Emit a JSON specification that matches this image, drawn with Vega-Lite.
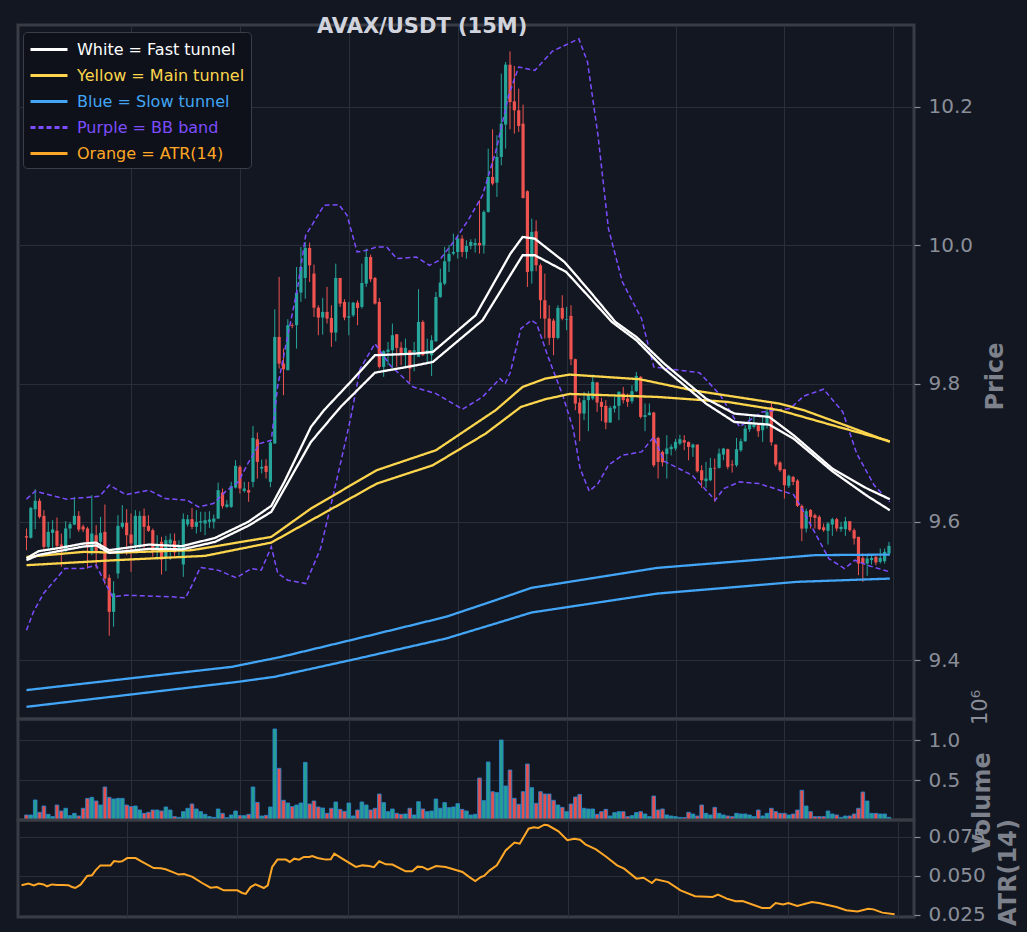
{
  "$schema": "https://vega.github.io/schema/vega-lite/v6.json",
  "background": "#131722",
  "padding": {"left": 16, "top": 14, "right": 5, "bottom": 5},
  "datasets": {
    "candles": [
      {"i":1,"o":9.5792,"h":9.5903,"l":9.5589,"c":9.5772,"v":62500},
      {"i":2,"o":9.5768,"h":9.6216,"l":9.5758,"c":9.6201,"v":62500},
      {"i":3,"o":9.6182,"h":9.6471,"l":9.5893,"c":9.6303,"v":250000},
      {"i":4,"o":9.6303,"h":9.6337,"l":9.6047,"c":9.6071,"v":96000},
      {"i":5,"o":9.6086,"h":9.6168,"l":9.5589,"c":9.5637,"v":175000},
      {"i":6,"o":9.5637,"h":9.5999,"l":9.5589,"c":9.5854,"v":71000},
      {"i":7,"o":9.584,"h":9.6023,"l":9.5613,"c":9.5888,"v":42000},
      {"i":8,"o":9.5869,"h":9.6062,"l":9.5589,"c":9.5652,"v":187500},
      {"i":9,"o":9.5671,"h":9.583,"l":9.5348,"c":9.5613,"v":112500},
      {"i":10,"o":9.5575,"h":9.6009,"l":9.5565,"c":9.5903,"v":146000},
      {"i":11,"o":9.5903,"h":9.5999,"l":9.5758,"c":9.5965,"v":54000},
      {"i":12,"o":9.596,"h":9.636,"l":9.5951,"c":9.6086,"v":83000},
      {"i":13,"o":9.6086,"h":9.6153,"l":9.5854,"c":9.5888,"v":50000},
      {"i":14,"o":9.593,"h":9.596,"l":9.585,"c":9.589,"v":146000},
      {"i":15,"o":9.5903,"h":9.5927,"l":9.5324,"c":9.5637,"v":270000},
      {"i":16,"o":9.5575,"h":9.6385,"l":9.5517,"c":9.583,"v":283000},
      {"i":17,"o":9.5806,"h":9.5951,"l":9.5324,"c":9.5565,"v":237500},
      {"i":18,"o":9.571,"h":9.6071,"l":9.5589,"c":9.584,"v":187500},
      {"i":19,"o":9.5854,"h":9.625,"l":9.5093,"c":9.518,"v":412500},
      {"i":20,"o":9.5189,"h":9.5237,"l":9.4351,"c":9.4697,"v":283000},
      {"i":21,"o":9.4697,"h":9.5141,"l":9.4481,"c":9.4963,"v":262500},
      {"i":22,"o":9.5252,"h":9.6095,"l":9.518,"c":9.5941,"v":270000},
      {"i":23,"o":9.5927,"h":9.624,"l":9.5902,"c":9.5985,"v":270000},
      {"i":24,"o":9.5985,"h":9.6182,"l":9.5517,"c":9.5806,"v":187500},
      {"i":25,"o":9.5816,"h":9.612,"l":9.5276,"c":9.5686,"v":167000},
      {"i":26,"o":9.5661,"h":9.6168,"l":9.5565,"c":9.6086,"v":175000},
      {"i":27,"o":9.5637,"h":9.6153,"l":9.5613,"c":9.6086,"v":125000},
      {"i":28,"o":9.6086,"h":9.6192,"l":9.5613,"c":9.5927,"v":83000},
      {"i":29,"o":9.5941,"h":9.6095,"l":9.5854,"c":9.5869,"v":96000},
      {"i":30,"o":9.5878,"h":9.5902,"l":9.5493,"c":9.5565,"v":125000},
      {"i":31,"o":9.5613,"h":9.5806,"l":9.5445,"c":9.5661,"v":125000},
      {"i":32,"o":9.571,"h":9.5782,"l":9.5237,"c":9.5454,"v":112500},
      {"i":33,"o":9.5478,"h":9.5797,"l":9.5286,"c":9.5734,"v":162500},
      {"i":34,"o":9.5686,"h":9.583,"l":9.5445,"c":9.5743,"v":125000},
      {"i":35,"o":9.5724,"h":9.583,"l":9.5493,"c":9.5556,"v":42000},
      {"i":36,"o":9.5589,"h":9.5734,"l":9.5469,"c":9.5652,"v":33000},
      {"i":37,"o":9.5382,"h":9.612,"l":9.5204,"c":9.6038,"v":104000},
      {"i":38,"o":9.5962,"h":9.61,"l":9.593,"c":9.6036,"v":146000},
      {"i":39,"o":9.6038,"h":9.6201,"l":9.5893,"c":9.5927,"v":200000},
      {"i":40,"o":9.5927,"h":9.6168,"l":9.583,"c":9.5999,"v":137500},
      {"i":41,"o":9.5989,"h":9.6144,"l":9.5854,"c":9.6009,"v":104000},
      {"i":42,"o":9.5975,"h":9.6144,"l":9.5806,"c":9.6023,"v":71000},
      {"i":43,"o":9.5999,"h":9.6153,"l":9.5912,"c":9.6033,"v":42000},
      {"i":44,"o":9.5999,"h":9.6105,"l":9.5902,"c":9.6047,"v":33000},
      {"i":45,"o":9.6047,"h":9.6568,"l":9.6038,"c":9.6457,"v":137500},
      {"i":46,"o":9.6423,"h":9.6481,"l":9.6192,"c":9.6226,"v":83000},
      {"i":47,"o":9.6216,"h":9.6312,"l":9.6201,"c":9.625,"v":29000},
      {"i":48,"o":9.6216,"h":9.6577,"l":9.6201,"c":9.6515,"v":62500},
      {"i":49,"o":9.6495,"h":9.6891,"l":9.6481,"c":9.6809,"v":112500},
      {"i":50,"o":9.6794,"h":9.6818,"l":9.6409,"c":9.6481,"v":54000},
      {"i":51,"o":9.6447,"h":9.6577,"l":9.6423,"c":9.6481,"v":54000},
      {"i":52,"o":9.6457,"h":9.6577,"l":9.6288,"c":9.6423,"v":71000},
      {"i":53,"o":9.6577,"h":9.7387,"l":9.65,"c":9.7214,"v":412500},
      {"i":54,"o":9.7194,"h":9.7291,"l":9.6625,"c":9.6866,"v":220000},
      {"i":55,"o":9.677,"h":9.69,"l":9.67,"c":9.6794,"v":50000},
      {"i":56,"o":9.6809,"h":9.6905,"l":9.6625,"c":9.6722,"v":58000},
      {"i":57,"o":9.6577,"h":9.718,"l":9.65,"c":9.7146,"v":162500},
      {"i":58,"o":9.7132,"h":9.9074,"l":9.7132,"c":9.8674,"v":1137500},
      {"i":59,"o":9.8674,"h":9.9542,"l":9.8216,"c":9.8288,"v":646000},
      {"i":60,"o":9.8288,"h":9.8505,"l":9.7831,"c":9.8206,"v":246000},
      {"i":61,"o":9.8192,"h":9.893,"l":9.8192,"c":9.8843,"v":212500},
      {"i":62,"o":9.8843,"h":9.887,"l":9.88,"c":9.8833,"v":167000},
      {"i":63,"o":9.8843,"h":9.9686,"l":9.8505,"c":9.9315,"v":187500},
      {"i":64,"o":9.9315,"h":9.9976,"l":9.918,"c":9.9686,"v":212500},
      {"i":65,"o":9.9527,"h":10.0048,"l":9.9228,"c":9.9961,"v":720000},
      {"i":66,"o":9.9961,"h":10.0038,"l":9.9469,"c":9.971,"v":200000},
      {"i":67,"o":9.959,"h":9.972,"l":9.8963,"c":9.9097,"v":237500},
      {"i":68,"o":9.9097,"h":9.9132,"l":9.8698,"c":9.8954,"v":162500},
      {"i":69,"o":9.8954,"h":9.9238,"l":9.8708,"c":9.9036,"v":150000},
      {"i":70,"o":9.9036,"h":9.9397,"l":9.8867,"c":9.8939,"v":83000},
      {"i":71,"o":9.8949,"h":9.9132,"l":9.853,"c":9.8737,"v":146000},
      {"i":72,"o":9.8737,"h":9.9734,"l":9.8611,"c":9.9527,"v":225000},
      {"i":73,"o":9.9527,"h":9.9527,"l":9.9108,"c":9.9156,"v":133000},
      {"i":74,"o":9.918,"h":9.9219,"l":9.8915,"c":9.8954,"v":108000},
      {"i":75,"o":9.8954,"h":9.918,"l":9.8698,"c":9.8973,"v":212500},
      {"i":76,"o":9.8987,"h":9.918,"l":9.8963,"c":9.917,"v":50000},
      {"i":77,"o":9.917,"h":9.9204,"l":9.8843,"c":9.9093,"v":125000},
      {"i":78,"o":9.9108,"h":9.9734,"l":9.9084,"c":9.9455,"v":225000},
      {"i":79,"o":9.9445,"h":9.9951,"l":9.9397,"c":9.9831,"v":187500},
      {"i":80,"o":9.9831,"h":9.9865,"l":9.9469,"c":9.9508,"v":125000},
      {"i":81,"o":9.9527,"h":9.9542,"l":9.9142,"c":9.9156,"v":146000},
      {"i":82,"o":9.918,"h":9.9238,"l":9.8216,"c":9.824,"v":325000},
      {"i":83,"o":9.824,"h":9.8481,"l":9.8096,"c":9.8467,"v":217000},
      {"i":84,"o":9.8457,"h":9.8602,"l":9.8264,"c":9.8491,"v":104000},
      {"i":85,"o":9.8481,"h":9.8867,"l":9.8216,"c":9.8698,"v":137500},
      {"i":86,"o":9.8713,"h":9.8713,"l":9.824,"c":9.8515,"v":83000},
      {"i":87,"o":9.852,"h":9.8602,"l":9.8264,"c":9.8433,"v":71000},
      {"i":88,"o":9.8443,"h":9.865,"l":9.8216,"c":9.8515,"v":75000},
      {"i":89,"o":9.8481,"h":9.8481,"l":9.8023,"c":9.8216,"v":146000},
      {"i":90,"o":9.8457,"h":9.8602,"l":9.8178,"c":9.8481,"v":62500},
      {"i":91,"o":9.8385,"h":9.9363,"l":9.8385,"c":9.8891,"v":229000},
      {"i":92,"o":9.8891,"h":9.8915,"l":9.8399,"c":9.8409,"v":137500},
      {"i":93,"o":9.8433,"h":9.865,"l":9.8313,"c":9.8481,"v":104000},
      {"i":94,"o":9.8409,"h":9.8698,"l":9.811,"c":9.8626,"v":112500},
      {"i":95,"o":9.8611,"h":9.9325,"l":9.8602,"c":9.9252,"v":262500},
      {"i":96,"o":9.9252,"h":9.9662,"l":9.9238,"c":9.946,"v":146000},
      {"i":97,"o":9.9445,"h":9.9976,"l":9.9421,"c":9.9768,"v":217000},
      {"i":98,"o":9.9768,"h":10.0,"l":9.9614,"c":9.9874,"v":154000},
      {"i":99,"o":9.9879,"h":10.0168,"l":9.9855,"c":9.9903,"v":162500},
      {"i":100,"o":9.9903,"h":10.0154,"l":9.9807,"c":10.0096,"v":204000},
      {"i":101,"o":10.0096,"h":10.0144,"l":9.9831,"c":9.9903,"v":133000},
      {"i":102,"o":9.9903,"h":10.0072,"l":9.9807,"c":9.999,"v":112500},
      {"i":103,"o":9.999,"h":10.0087,"l":9.9942,"c":10.0048,"v":62500},
      {"i":104,"o":10.0,"h":10.0096,"l":9.9894,"c":10.0034,"v":71000},
      {"i":105,"o":10.0034,"h":10.065,"l":9.9879,"c":9.9999,"v":525000},
      {"i":106,"o":9.9999,"h":10.0506,"l":9.9879,"c":10.0482,"v":242000},
      {"i":107,"o":10.0482,"h":10.1398,"l":10.0472,"c":10.0988,"v":725000},
      {"i":108,"o":10.0988,"h":10.1677,"l":10.0867,"c":10.0892,"v":354000},
      {"i":109,"o":10.0906,"h":10.159,"l":10.0699,"c":10.1277,"v":342000},
      {"i":110,"o":10.1277,"h":10.2482,"l":10.1157,"c":10.1759,"v":1000000},
      {"i":111,"o":10.1745,"h":10.2651,"l":10.1398,"c":10.2612,"v":425000},
      {"i":112,"o":10.2612,"h":10.2805,"l":10.1677,"c":10.2072,"v":625000},
      {"i":113,"o":10.2082,"h":10.2593,"l":10.1615,"c":10.1952,"v":271000},
      {"i":114,"o":10.1952,"h":10.2265,"l":10.1639,"c":10.1725,"v":196000},
      {"i":115,"o":10.1759,"h":10.2034,"l":10.0675,"c":10.0684,"v":354000},
      {"i":116,"o":10.0781,"h":10.0795,"l":9.9397,"c":9.9614,"v":700000},
      {"i":117,"o":9.9624,"h":10.0385,"l":9.9445,"c":10.0193,"v":404000},
      {"i":118,"o":10.0202,"h":10.0361,"l":9.9624,"c":9.9711,"v":208000},
      {"i":119,"o":9.9711,"h":9.9735,"l":9.8939,"c":9.9205,"v":354000},
      {"i":120,"o":9.9205,"h":9.959,"l":9.865,"c":9.8939,"v":325000},
      {"i":121,"o":9.8939,"h":9.9132,"l":9.8554,"c":9.866,"v":325000},
      {"i":122,"o":9.891,"h":9.8939,"l":9.8409,"c":9.866,"v":246000},
      {"i":123,"o":9.866,"h":9.9132,"l":9.864,"c":9.9094,"v":187500},
      {"i":124,"o":9.9094,"h":9.9277,"l":9.8915,"c":9.8939,"v":158000},
      {"i":125,"o":9.892,"h":9.9108,"l":9.8771,"c":9.893,"v":104000},
      {"i":126,"o":9.8978,"h":9.9132,"l":9.8265,"c":9.8351,"v":200000},
      {"i":127,"o":9.8351,"h":9.8361,"l":9.7614,"c":9.771,"v":287500},
      {"i":128,"o":9.7725,"h":9.7792,"l":9.7166,"c":9.7566,"v":320000},
      {"i":129,"o":9.7566,"h":9.7879,"l":9.7469,"c":9.7759,"v":146000},
      {"i":130,"o":9.7759,"h":9.7889,"l":9.731,"c":9.7831,"v":137500},
      {"i":131,"o":9.7783,"h":9.813,"l":9.7759,"c":9.8024,"v":137500},
      {"i":132,"o":9.8014,"h":9.8024,"l":9.759,"c":9.7725,"v":71000},
      {"i":133,"o":9.7734,"h":9.7792,"l":9.7455,"c":9.7662,"v":104000},
      {"i":134,"o":9.7677,"h":9.7759,"l":9.7339,"c":9.7436,"v":133000},
      {"i":135,"o":9.7436,"h":9.7677,"l":9.743,"c":9.7648,"v":50000},
      {"i":136,"o":9.7638,"h":9.7807,"l":9.758,"c":9.7677,"v":92000},
      {"i":137,"o":9.7677,"h":9.7889,"l":9.7469,"c":9.7879,"v":104000},
      {"i":138,"o":9.7855,"h":9.7951,"l":9.771,"c":9.7759,"v":104000},
      {"i":139,"o":9.7783,"h":9.7855,"l":9.7662,"c":9.7734,"v":42000},
      {"i":140,"o":9.7744,"h":9.7975,"l":9.771,"c":9.7889,"v":54000},
      {"i":141,"o":9.7889,"h":9.8168,"l":9.7879,"c":9.811,"v":92000},
      {"i":142,"o":9.8096,"h":9.811,"l":9.7493,"c":9.7517,"v":104000},
      {"i":143,"o":9.7517,"h":9.771,"l":9.731,"c":9.7542,"v":75000},
      {"i":144,"o":9.7542,"h":9.771,"l":9.7542,"c":9.758,"v":42000},
      {"i":145,"o":9.758,"h":9.759,"l":9.679,"c":9.6818,"v":300000},
      {"i":146,"o":9.7213,"h":9.723,"l":9.6625,"c":9.6866,"v":125000},
      {"i":147,"o":9.7011,"h":9.703,"l":9.68,"c":9.686,"v":137500},
      {"i":148,"o":9.698,"h":9.7252,"l":9.6625,"c":9.706,"v":62500},
      {"i":149,"o":9.705,"h":9.712,"l":9.696,"c":9.7084,"v":50000},
      {"i":150,"o":9.706,"h":9.72,"l":9.703,"c":9.7156,"v":42000},
      {"i":151,"o":9.7131,"h":9.7258,"l":9.7107,"c":9.7194,"v":33000},
      {"i":152,"o":9.718,"h":9.7252,"l":9.7035,"c":9.7146,"v":30000},
      {"i":153,"o":9.7155,"h":9.716,"l":9.689,"c":9.7083,"v":96000},
      {"i":154,"o":9.7073,"h":9.7131,"l":9.6939,"c":9.7117,"v":75000},
      {"i":155,"o":9.7117,"h":9.7117,"l":9.6712,"c":9.6731,"v":50000},
      {"i":156,"o":9.6746,"h":9.6818,"l":9.649,"c":9.6601,"v":187500},
      {"i":157,"o":9.6587,"h":9.6866,"l":9.649,"c":9.6625,"v":83000},
      {"i":158,"o":9.6601,"h":9.6924,"l":9.6587,"c":9.678,"v":62500},
      {"i":159,"o":9.678,"h":9.6914,"l":9.6288,"c":9.677,"v":158000},
      {"i":160,"o":9.678,"h":9.7059,"l":9.677,"c":9.6987,"v":83000},
      {"i":161,"o":9.6972,"h":9.7069,"l":9.689,"c":9.7059,"v":62500},
      {"i":162,"o":9.7049,"h":9.7059,"l":9.676,"c":9.6794,"v":50000},
      {"i":163,"o":9.6828,"h":9.689,"l":9.6712,"c":9.6818,"v":42000},
      {"i":164,"o":9.6818,"h":9.7213,"l":9.6794,"c":9.7049,"v":83000},
      {"i":165,"o":9.7035,"h":9.7204,"l":9.7011,"c":9.7165,"v":75000},
      {"i":166,"o":9.7165,"h":9.7396,"l":9.7155,"c":9.7348,"v":75000},
      {"i":167,"o":9.7339,"h":9.7517,"l":9.73,"c":9.7406,"v":62500},
      {"i":168,"o":9.7372,"h":9.7541,"l":9.7348,"c":9.7406,"v":42000},
      {"i":169,"o":9.7396,"h":9.742,"l":9.7228,"c":9.731,"v":125000},
      {"i":170,"o":9.7324,"h":9.7541,"l":9.7155,"c":9.7406,"v":50000},
      {"i":171,"o":9.7396,"h":9.7628,"l":9.7348,"c":9.7589,"v":83000},
      {"i":172,"o":9.766,"h":9.774,"l":9.71,"c":9.715,"v":146000},
      {"i":173,"o":9.7117,"h":9.7117,"l":9.68,"c":9.6828,"v":104000},
      {"i":174,"o":9.6857,"h":9.6876,"l":9.6722,"c":9.6746,"v":83000},
      {"i":175,"o":9.676,"h":9.676,"l":9.6336,"c":9.6529,"v":83000},
      {"i":176,"o":9.6519,"h":9.6683,"l":9.649,"c":9.6664,"v":62500},
      {"i":177,"o":9.6649,"h":9.6664,"l":9.6529,"c":9.6577,"v":75000},
      {"i":178,"o":9.6596,"h":9.6616,"l":9.6215,"c":9.623,"v":125000},
      {"i":179,"o":9.623,"h":9.6249,"l":9.5719,"c":9.5902,"v":371000},
      {"i":180,"o":9.5902,"h":9.6191,"l":9.5845,"c":9.6153,"v":175000},
      {"i":181,"o":9.6172,"h":9.6182,"l":9.5902,"c":9.6071,"v":104000},
      {"i":182,"o":9.6095,"h":9.6119,"l":9.5902,"c":9.6057,"v":42000},
      {"i":183,"o":9.6071,"h":9.6095,"l":9.5878,"c":9.5893,"v":42000},
      {"i":184,"o":9.5921,"h":9.5975,"l":9.5854,"c":9.5878,"v":42000},
      {"i":185,"o":9.5869,"h":9.5999,"l":9.5671,"c":9.5975,"v":112500},
      {"i":186,"o":9.596,"h":9.6057,"l":9.5796,"c":9.6037,"v":75000},
      {"i":187,"o":9.6037,"h":9.6057,"l":9.586,"c":9.5902,"v":62500},
      {"i":188,"o":9.5893,"h":9.5999,"l":9.5854,"c":9.5927,"v":33000},
      {"i":189,"o":9.5893,"h":9.6071,"l":9.5796,"c":9.6008,"v":50000},
      {"i":190,"o":9.6008,"h":9.6008,"l":9.5854,"c":9.5878,"v":50000},
      {"i":191,"o":9.5878,"h":9.5902,"l":9.5671,"c":9.5758,"v":75000},
      {"i":192,"o":9.5782,"h":9.5782,"l":9.5227,"c":9.5396,"v":146000},
      {"i":193,"o":9.5478,"h":9.5541,"l":9.5131,"c":9.5396,"v":350000},
      {"i":194,"o":9.5396,"h":9.5517,"l":9.5218,"c":9.5468,"v":237500},
      {"i":195,"o":9.5444,"h":9.5507,"l":9.5382,"c":9.5478,"v":83000},
      {"i":196,"o":9.5492,"h":9.5517,"l":9.5372,"c":9.5411,"v":83000},
      {"i":197,"o":9.542,"h":9.5613,"l":9.5396,"c":9.5478,"v":75000},
      {"i":198,"o":9.543,"h":9.5613,"l":9.5396,"c":9.5565,"v":75000},
      {"i":199,"o":9.5541,"h":9.5709,"l":9.5526,"c":9.5652,"v":33000}
    ],
    "lines": [
      {"g":"b","s":"b1","i":1,"p":9.3565},{"g":"b","s":"b1","i":48.1,"p":9.3901},{"g":"b","s":"b1","i":59.5,"p":9.4046},{"g":"b","s":"b1","i":75.4,"p":9.4287},{"g":"b","s":"b1","i":97.3,"p":9.4625},{"g":"b","s":"b1","i":108.7,"p":9.4866},{"g":"b","s":"b1","i":116.9,"p":9.5044},{"g":"b","s":"b1","i":145.8,"p":9.5333},{"g":"b","s":"b1","i":182,"p":9.5517},{"g":"b","s":"b1","i":199.2,"p":9.5525},
      {"g":"b","s":"b2","i":1,"p":9.3323},{"g":"b","s":"b2","i":49.6,"p":9.3685},{"g":"b","s":"b2","i":57.9,"p":9.3757},{"g":"b","s":"b2","i":75.4,"p":9.3998},{"g":"b","s":"b2","i":97.3,"p":9.4311},{"g":"b","s":"b2","i":108.7,"p":9.4528},{"g":"b","s":"b2","i":116.9,"p":9.4687},{"g":"b","s":"b2","i":145.8,"p":9.4961},{"g":"b","s":"b2","i":177.9,"p":9.5131},{"g":"b","s":"b2","i":199.2,"p":9.5178},
      {"g":"y","s":"y1","i":1,"p":9.5492},{"g":"y","s":"y1","i":14,"p":9.5564},{"g":"y","s":"y1","i":22.3,"p":9.5554},{"g":"y","s":"y1","i":39,"p":9.5589},{"g":"y","s":"y1","i":57.2,"p":9.5781},{"g":"y","s":"y1","i":66.3,"p":9.6191},{"g":"y","s":"y1","i":81.4,"p":9.6746},{"g":"y","s":"y1","i":95,"p":9.7035},{"g":"y","s":"y1","i":108.7,"p":9.7614},{"g":"y","s":"y1","i":114.9,"p":9.7951},{"g":"y","s":"y1","i":120.1,"p":9.8071},{"g":"y","s":"y1","i":125.7,"p":9.8129},{"g":"y","s":"y1","i":141.8,"p":9.8062},{"g":"y","s":"y1","i":153.8,"p":9.7903},{"g":"y","s":"y1","i":173.9,"p":9.7709},{"g":"y","s":"y1","i":179.5,"p":9.7613},{"g":"y","s":"y1","i":190,"p":9.7372},{"g":"y","s":"y1","i":199.2,"p":9.7155},
      {"g":"y","s":"y2","i":1,"p":9.5372},{"g":"y","s":"y2","i":21.6,"p":9.5445},{"g":"y","s":"y2","i":42,"p":9.5507},{"g":"y","s":"y2","i":57.2,"p":9.5699},{"g":"y","s":"y2","i":81.4,"p":9.6552},{"g":"y","s":"y2","i":94.3,"p":9.6818},{"g":"y","s":"y2","i":106.4,"p":9.7275},{"g":"y","s":"y2","i":114.5,"p":9.7661},{"g":"y","s":"y2","i":120.1,"p":9.7773},{"g":"y","s":"y2","i":125.7,"p":9.7849},{"g":"y","s":"y2","i":145.8,"p":9.7806},{"g":"y","s":"y2","i":161.9,"p":9.7734},{"g":"y","s":"y2","i":173.9,"p":9.7613},{"g":"y","s":"y2","i":186,"p":9.7397},{"g":"y","s":"y2","i":199.2,"p":9.7165},
      {"g":"w","s":"w1","i":1,"p":9.547},{"g":"w","s":"w1","i":3.8,"p":9.5575},{"g":"w","s":"w1","i":8.7,"p":9.5622},{"g":"w","s":"w1","i":14,"p":9.5685},{"g":"w","s":"w1","i":17,"p":9.5699},{"g":"w","s":"w1","i":20,"p":9.5589},{"g":"w","s":"w1","i":23.8,"p":9.5622},{"g":"w","s":"w1","i":29.1,"p":9.567},{"g":"w","s":"w1","i":36.7,"p":9.5647},{"g":"w","s":"w1","i":44.3,"p":9.5767},{"g":"w","s":"w1","i":51.9,"p":9.5998},{"g":"w","s":"w1","i":57.2,"p":9.623},{"g":"w","s":"w1","i":60.2,"p":9.6577},{"g":"w","s":"w1","i":66.3,"p":9.7372},{"g":"w","s":"w1","i":69.3,"p":9.7614},{"g":"w","s":"w1","i":75.4,"p":9.8023},{"g":"w","s":"w1","i":81,"p":9.8409},{"g":"w","s":"w1","i":90.1,"p":9.8432},{"g":"w","s":"w1","i":94.3,"p":9.8457},{"g":"w","s":"w1","i":104.1,"p":9.8987},{"g":"w","s":"w1","i":112.1,"p":9.9878},{"g":"w","s":"w1","i":114.9,"p":10.012},{"g":"w","s":"w1","i":117.7,"p":10.0095},{"g":"w","s":"w1","i":124.5,"p":9.9758},{"g":"w","s":"w1","i":129.8,"p":9.9372},{"g":"w","s":"w1","i":136.2,"p":9.889},{"g":"w","s":"w1","i":141,"p":9.8674},{"g":"w","s":"w1","i":147.4,"p":9.8287},{"g":"w","s":"w1","i":157,"p":9.7781},{"g":"w","s":"w1","i":163.5,"p":9.7565},{"g":"w","s":"w1","i":171.5,"p":9.7517},{"g":"w","s":"w1","i":177.1,"p":9.7252},{"g":"w","s":"w1","i":186,"p":9.6769},{"g":"w","s":"w1","i":194,"p":9.648},{"g":"w","s":"w1","i":199.2,"p":9.6326},
      {"g":"w","s":"w2","i":1,"p":9.5444},{"g":"w","s":"w2","i":3.8,"p":9.5521},{"g":"w","s":"w2","i":8.7,"p":9.5579},{"g":"w","s":"w2","i":14,"p":9.5641},{"g":"w","s":"w2","i":17,"p":9.5658},{"g":"w","s":"w2","i":20,"p":9.555},{"g":"w","s":"w2","i":23.8,"p":9.5575},{"g":"w","s":"w2","i":29.1,"p":9.5608},{"g":"w","s":"w2","i":36.7,"p":9.5601},{"g":"w","s":"w2","i":44.3,"p":9.5709},{"g":"w","s":"w2","i":51.9,"p":9.5941},{"g":"w","s":"w2","i":57.2,"p":9.6143},{"g":"w","s":"w2","i":66.3,"p":9.7155},{"g":"w","s":"w2","i":73.1,"p":9.7661},{"g":"w","s":"w2","i":81,"p":9.8157},{"g":"w","s":"w2","i":90.5,"p":9.8264},{"g":"w","s":"w2","i":94.3,"p":9.8312},{"g":"w","s":"w2","i":105.7,"p":9.8915},{"g":"w","s":"w2","i":114.9,"p":9.9855},{"g":"w","s":"w2","i":117.7,"p":9.9855},{"g":"w","s":"w2","i":124.9,"p":9.9614},{"g":"w","s":"w2","i":129.8,"p":9.9277},{"g":"w","s":"w2","i":135.4,"p":9.889},{"g":"w","s":"w2","i":141,"p":9.8626},{"g":"w","s":"w2","i":147.4,"p":9.8215},{"g":"w","s":"w2","i":157,"p":9.7709},{"g":"w","s":"w2","i":163.5,"p":9.7444},{"g":"w","s":"w2","i":171.5,"p":9.7405},{"g":"w","s":"w2","i":177.1,"p":9.7203},{"g":"w","s":"w2","i":186,"p":9.6731},{"g":"w","s":"w2","i":194,"p":9.6374},{"g":"w","s":"w2","i":199.2,"p":9.6167},
      {"g":"p","s":"p1","i":1,"p":9.6327},{"g":"p","s":"p1","i":3,"p":9.6442},{"g":"p","s":"p1","i":10.2,"p":9.6327},{"g":"p","s":"p1","i":17.8,"p":9.637},{"g":"p","s":"p1","i":20,"p":9.6529},{"g":"p","s":"p1","i":23.8,"p":9.6393},{"g":"p","s":"p1","i":29.1,"p":9.6457},{"g":"p","s":"p1","i":32.9,"p":9.6335},{"g":"p","s":"p1","i":37.9,"p":9.6312},{"g":"p","s":"p1","i":40.5,"p":9.6215},{"g":"p","s":"p1","i":43.9,"p":9.6263},{"g":"p","s":"p1","i":46.6,"p":9.6432},{"g":"p","s":"p1","i":49.6,"p":9.6577},{"g":"p","s":"p1","i":51.9,"p":9.6851},{"g":"p","s":"p1","i":54.5,"p":9.713},{"g":"p","s":"p1","i":57.2,"p":9.718},{"g":"p","s":"p1","i":58.7,"p":9.7975},{"g":"p","s":"p1","i":61,"p":9.8698},{"g":"p","s":"p1","i":63.2,"p":9.9372},{"g":"p","s":"p1","i":65.1,"p":10.0144},{"g":"p","s":"p1","i":69.3,"p":10.0578},{"g":"p","s":"p1","i":72.7,"p":10.0587},{"g":"p","s":"p1","i":74.6,"p":10.0433},{"g":"p","s":"p1","i":76.9,"p":9.9903},{"g":"p","s":"p1","i":79.1,"p":9.9927},{"g":"p","s":"p1","i":81.4,"p":9.9975},{"g":"p","s":"p1","i":83.7,"p":9.9975},{"g":"p","s":"p1","i":86,"p":9.9806},{"g":"p","s":"p1","i":90.5,"p":9.983},{"g":"p","s":"p1","i":93.5,"p":9.971},{"g":"p","s":"p1","i":95.8,"p":9.9783},{"g":"p","s":"p1","i":99.6,"p":10.0095},{"g":"p","s":"p1","i":102.6,"p":10.0384},{"g":"p","s":"p1","i":105.7,"p":10.0723},{"g":"p","s":"p1","i":108.7,"p":10.1349},{"g":"p","s":"p1","i":111.7,"p":10.2169},{"g":"p","s":"p1","i":114,"p":10.2578},{"g":"p","s":"p1","i":117.7,"p":10.253},{"g":"p","s":"p1","i":121.7,"p":10.2805},{"g":"p","s":"p1","i":127.8,"p":10.2987},{"g":"p","s":"p1","i":129.8,"p":10.265},{"g":"p","s":"p1","i":132.2,"p":10.159},{"g":"p","s":"p1","i":134.6,"p":10.024},{"g":"p","s":"p1","i":137.8,"p":9.9469},{"g":"p","s":"p1","i":142.2,"p":9.8938},{"g":"p","s":"p1","i":145,"p":9.824},{"g":"p","s":"p1","i":155.5,"p":9.8157},{"g":"p","s":"p1","i":160.3,"p":9.7831},{"g":"p","s":"p1","i":164.7,"p":9.7372},{"g":"p","s":"p1","i":169.9,"p":9.7589},{"g":"p","s":"p1","i":176.3,"p":9.7637},{"g":"p","s":"p1","i":179.5,"p":9.782},{"g":"p","s":"p1","i":184,"p":9.7917},{"g":"p","s":"p1","i":188.4,"p":9.7589},{"g":"p","s":"p1","i":191.6,"p":9.6986},{"g":"p","s":"p1","i":195.6,"p":9.6529},{"g":"p","s":"p1","i":199.2,"p":9.6287},
      {"g":"p","s":"p2","i":1,"p":9.4432},{"g":"p","s":"p2","i":2.6,"p":9.4697},{"g":"p","s":"p2","i":4.9,"p":9.4962},{"g":"p","s":"p2","i":9.8,"p":9.5323},{"g":"p","s":"p2","i":14,"p":9.5323},{"g":"p","s":"p2","i":17,"p":9.5372},{"g":"p","s":"p2","i":19.3,"p":9.5083},{"g":"p","s":"p2","i":20.8,"p":9.4914},{"g":"p","s":"p2","i":23.8,"p":9.4938},{"g":"p","s":"p2","i":34.5,"p":9.4914},{"g":"p","s":"p2","i":37.5,"p":9.4899},{"g":"p","s":"p2","i":39,"p":9.5083},{"g":"p","s":"p2","i":40.9,"p":9.5338},{"g":"p","s":"p2","i":45,"p":9.53},{"g":"p","s":"p2","i":49.2,"p":9.5189},{"g":"p","s":"p2","i":52.6,"p":9.5323},{"g":"p","s":"p2","i":54.9,"p":9.53},{"g":"p","s":"p2","i":57.2,"p":9.5637},{"g":"p","s":"p2","i":58.7,"p":9.5251},{"g":"p","s":"p2","i":61,"p":9.5155},{"g":"p","s":"p2","i":65.1,"p":9.5106},{"g":"p","s":"p2","i":68.5,"p":9.5612},{"g":"p","s":"p2","i":71.6,"p":9.6432},{"g":"p","s":"p2","i":75.4,"p":9.7492},{"g":"p","s":"p2","i":77.6,"p":9.8215},{"g":"p","s":"p2","i":81,"p":9.8576},{"g":"p","s":"p2","i":84.5,"p":9.8264},{"g":"p","s":"p2","i":89.8,"p":9.795},{"g":"p","s":"p2","i":95,"p":9.7854},{"g":"p","s":"p2","i":101.1,"p":9.7628},{"g":"p","s":"p2","i":105.7,"p":9.7806},{"g":"p","s":"p2","i":109.7,"p":9.8071},{"g":"p","s":"p2","i":110.9,"p":9.7998},{"g":"p","s":"p2","i":112.1,"p":9.8167},{"g":"p","s":"p2","i":114.5,"p":9.8794},{"g":"p","s":"p2","i":116.9,"p":9.8915},{"g":"p","s":"p2","i":118.1,"p":9.8866},{"g":"p","s":"p2","i":120.9,"p":9.836},{"g":"p","s":"p2","i":124.1,"p":9.783},{"g":"p","s":"p2","i":126.5,"p":9.7347},{"g":"p","s":"p2","i":128.1,"p":9.6769},{"g":"p","s":"p2","i":130.2,"p":9.6442},{"g":"p","s":"p2","i":132.2,"p":9.6552},{"g":"p","s":"p2","i":134.6,"p":9.6818},{"g":"p","s":"p2","i":137.8,"p":9.6963},{"g":"p","s":"p2","i":142.2,"p":9.7011},{"g":"p","s":"p2","i":145,"p":9.7228},{"g":"p","s":"p2","i":147.4,"p":9.6876},{"g":"p","s":"p2","i":153.8,"p":9.6674},{"g":"p","s":"p2","i":157,"p":9.6457},{"g":"p","s":"p2","i":159.1,"p":9.6312},{"g":"p","s":"p2","i":161.1,"p":9.648},{"g":"p","s":"p2","i":164.7,"p":9.6577},{"g":"p","s":"p2","i":169.1,"p":9.6553},{"g":"p","s":"p2","i":173.9,"p":9.6457},{"g":"p","s":"p2","i":177.1,"p":9.6393},{"g":"p","s":"p2","i":178.8,"p":9.6215},{"g":"p","s":"p2","i":181.5,"p":9.5901},{"g":"p","s":"p2","i":185.2,"p":9.5467},{"g":"p","s":"p2","i":188.8,"p":9.5323},{"g":"p","s":"p2","i":191.2,"p":9.5444},{"g":"p","s":"p2","i":194,"p":9.5372},{"g":"p","s":"p2","i":199.2,"p":9.5275}
    ],
    "atr": [
      {"i":1,"a":0.044},{"i":2.6,"a":0.0451},{"i":3.8,"a":0.044},{"i":4.9,"a":0.0451},{"i":6,"a":0.0446},{"i":6.8,"a":0.0434},{"i":7.9,"a":0.0446},{"i":9.1,"a":0.0442},{"i":10.2,"a":0.0442},{"i":11.7,"a":0.044},{"i":12.5,"a":0.0429},{"i":13.2,"a":0.0423},{"i":14.4,"a":0.0444},{"i":15.9,"a":0.05},{"i":17,"a":0.0504},{"i":17.8,"a":0.0536},{"i":18.9,"a":0.0568},{"i":20.1,"a":0.0568},{"i":21.2,"a":0.0568},{"i":22,"a":0.0596},{"i":23.1,"a":0.0592},{"i":23.8,"a":0.0594},{"i":25,"a":0.0615},{"i":26.9,"a":0.0615},{"i":28.4,"a":0.059},{"i":31,"a":0.0551},{"i":32.6,"a":0.0549},{"i":33.7,"a":0.0543},{"i":35.2,"a":0.0526},{"i":36.7,"a":0.0509},{"i":37.9,"a":0.0513},{"i":39.8,"a":0.0494},{"i":42,"a":0.0455},{"i":43.9,"a":0.0425},{"i":45.4,"a":0.0429},{"i":46.9,"a":0.0408},{"i":50,"a":0.0408},{"i":51.1,"a":0.0391},{"i":51.9,"a":0.0385},{"i":53,"a":0.0429},{"i":54.1,"a":0.0446},{"i":56,"a":0.0423},{"i":56.9,"a":0.044},{"i":57.9,"a":0.0558},{"i":59.1,"a":0.0605},{"i":61,"a":0.0605},{"i":61.9,"a":0.059},{"i":62.9,"a":0.0611},{"i":64,"a":0.0605},{"i":65.1,"a":0.0622},{"i":66.3,"a":0.0622},{"i":67,"a":0.0628},{"i":68.2,"a":0.0615},{"i":70.1,"a":0.0605},{"i":71.2,"a":0.0607},{"i":72,"a":0.0643},{"i":73.8,"a":0.0611},{"i":76.9,"a":0.0558},{"i":78.4,"a":0.0568},{"i":79.9,"a":0.0564},{"i":81,"a":0.0556},{"i":82.2,"a":0.0594},{"i":83.7,"a":0.0575},{"i":85.2,"a":0.0573},{"i":88.2,"a":0.053},{"i":89.7,"a":0.053},{"i":90.9,"a":0.056},{"i":92,"a":0.0558},{"i":93.2,"a":0.0541},{"i":95.1,"a":0.0564},{"i":97.3,"a":0.0558},{"i":99.6,"a":0.0538},{"i":101.1,"a":0.0526},{"i":102.6,"a":0.0494},{"i":104,"a":0.0468},{"i":105.3,"a":0.0494},{"i":106,"a":0.05},{"i":107.3,"a":0.0536},{"i":108.9,"a":0.0568},{"i":110.9,"a":0.0664},{"i":112.9,"a":0.0714},{"i":114.1,"a":0.0707},{"i":116.1,"a":0.0803},{"i":117.3,"a":0.0812},{"i":118.3,"a":0.0808},{"i":119.7,"a":0.0829},{"i":120.5,"a":0.0825},{"i":122.9,"a":0.0786},{"i":124.9,"a":0.0729},{"i":126.5,"a":0.0739},{"i":127.8,"a":0.0733},{"i":129,"a":0.0703},{"i":131.4,"a":0.0671},{"i":133.8,"a":0.0622},{"i":136.2,"a":0.0568},{"i":137.8,"a":0.0547},{"i":140.6,"a":0.0483},{"i":142.2,"a":0.0489},{"i":144.1,"a":0.0455},{"i":145,"a":0.0479},{"i":147.8,"a":0.0461},{"i":150.6,"a":0.0408},{"i":153.9,"a":0.037},{"i":157.9,"a":0.0365},{"i":159.1,"a":0.038},{"i":161.1,"a":0.0355},{"i":163.1,"a":0.0338},{"i":164.7,"a":0.034},{"i":169.1,"a":0.0295},{"i":170.9,"a":0.0295},{"i":172.2,"a":0.0327},{"i":173.9,"a":0.0318},{"i":175.1,"a":0.0327},{"i":177.1,"a":0.0308},{"i":180.4,"a":0.0333},{"i":182,"a":0.0327},{"i":186,"a":0.0301},{"i":188.2,"a":0.028},{"i":190.8,"a":0.0273},{"i":193.2,"a":0.029},{"i":194.4,"a":0.0286},{"i":196.4,"a":0.0265},{"i":199.2,"a":0.0254}
    ]
  },
  "vconcat": [
    {
      "width": 896,
      "height": 694,
      "title": {
        "text": "AVAX/USDT (15M)",
        "anchor": "start",
        "frame": "group",
        "dx": 299,
        "dy": 21,
        "offset": -8,
        "baseline": "alphabetic",
        "font": "DejaVu Sans",
        "fontSize": 21,
        "fontWeight": "bold",
        "color": "#d1d4dc"
      },
      "layer": [
        {
          "data": {"name": "candles"},
          "mark": {"type": "rule", "strokeWidth": 1, "clip": true},
          "encoding": {
            "x": {"field": "i", "type": "quantitative", "scale": {"domain": [0.2, 203.6], "nice": false, "zero": false},
              "axis": {"values": [25, 50, 75, 100, 125, 150, 175, 200], "labels": false, "ticks": false, "domain": false, "grid": true, "title": null}},
            "y": {"field": "l", "type": "quantitative", "scale": {"domain": [9.3147, 10.3186], "nice": false, "zero": false},
              "axis": {"orient": "right", "values": [9.4, 9.6, 9.8, 10.0, 10.2], "format": ".1f", "title": "Price",
                "titleX": 81, "titleY": 351, "titleAngle": 270, "titleAlign": "center", "titleBaseline": "middle"}},
            "y2": {"field": "h"},
            "color": {"condition": {"test": "datum.c >= datum.o", "value": "#26a69a"}, "value": "#ef5350"}
          }
        },
        {
          "data": {"name": "candles"},
          "mark": {"type": "bar", "width": 3.2, "clip": true},
          "encoding": {
            "x": {"field": "i", "type": "quantitative"},
            "y": {"field": "o", "type": "quantitative"},
            "y2": {"field": "c"},
            "color": {"condition": {"test": "datum.c >= datum.o", "value": "#26a69a"}, "value": "#ef5350"}
          }
        },
        {
          "data": {"name": "lines"},
          "transform": [{"filter": "datum.g === 'p'"}],
          "mark": {"type": "line", "strokeWidth": 1.5, "clip": true},
          "encoding": {
            "x": {"field": "i", "type": "quantitative"},
            "y": {"field": "p", "type": "quantitative"},
            "detail": {"field": "s"},
            "color": {"field": "g", "type": "nominal",
              "scale": {"domain": ["w", "y", "b", "p", "o"], "range": ["#ffffff", "#fdd64e", "#42a5f5", "#7c4dff", "#ffa726"]},
              "legend": {"title": null, "orient": "none", "legendX": 5, "legendY": 7, "labelLimit": 400,
                "labelExpr": "datum.label === 'w' ? 'White = Fast tunnel' : datum.label === 'y' ? 'Yellow = Main tunnel' : datum.label === 'b' ? 'Blue = Slow tunnel' : datum.label === 'p' ? 'Purple = BB band' : 'Orange = ATR(14)'",
                "encode": {"labels": {"update": {"fill": {"signal": "datum.value === 'w' ? '#ffffff' : datum.value === 'y' ? '#fdd64e' : datum.value === 'b' ? '#42a5f5' : datum.value === 'p' ? '#7c4dff' : '#ffa726'"}}}}}},
            "strokeDash": {"field": "g", "type": "nominal",
              "scale": {"domain": ["w", "y", "b", "p", "o"], "range": [[1, 0], [1, 0], [1, 0], [5, 3], [1, 0]]},
              "legend": {"title": null, "orient": "none", "legendX": 5, "legendY": 7, "labelLimit": 400}}
          }
        },
        {
          "data": {"name": "lines"},
          "transform": [{"filter": "datum.g !== 'p'"}],
          "mark": {"type": "line", "strokeWidth": 2.3, "clip": true},
          "encoding": {
            "x": {"field": "i", "type": "quantitative"},
            "y": {"field": "p", "type": "quantitative"},
            "detail": {"field": "s"},
            "color": {"field": "g", "type": "nominal"},
            "strokeDash": {"field": "g", "type": "nominal"}
          }
        }
      ]
    },
    {
      "width": 896,
      "height": 101,
      "layer": [
        {
          "data": {"name": "candles"},
          "mark": {"type": "bar", "width": 3.6, "opacity": 0.95},
          "encoding": {
            "x": {"field": "i", "type": "quantitative", "scale": {"domain": [0.2, 203.6], "nice": false, "zero": false},
              "axis": {"values": [25, 50, 75, 100, 125, 150, 175, 200], "labels": false, "ticks": false, "domain": false, "grid": true, "title": null}},
            "y": {"field": "v", "type": "quantitative", "scale": {"domain": [0, 1262500], "nice": false},
              "axis": {"orient": "right", "values": [500000, 1000000], "labelExpr": "format(datum.value / 1000000, '.1f')", "title": "Volume",
                "titleX": 68, "titleY": 83, "titleAngle": 270, "titleAlign": "center", "titleBaseline": "middle"}},
            "color": {"condition": {"test": "datum.c >= datum.o", "value": "#26a69a"}, "value": "#ef5350"}
          }
        },
        {
          "data": {"name": "candles"},
          "mark": {"type": "bar", "width": 3.6, "filled": false, "stroke": "#2b82c9", "strokeWidth": 0.9},
          "encoding": {
            "x": {"field": "i", "type": "quantitative"},
            "y": {"field": "v", "type": "quantitative",
              "axis": {"orient": "left", "title": "10⁶", "labels": false, "ticks": false, "domain": false, "grid": false,
                "titleX": 962, "titleY": -12, "titleAngle": 270, "titleAlign": "center", "titleBaseline": "middle",
                "titleFontWeight": "normal", "titleFontSize": 21, "titleColor": "#8a8e98"}}
          }
        }
      ],
      "resolve": {"axis": {"y": "independent"}}
    },
    {
      "width": 896,
      "height": 97,
      "data": {"name": "atr"},
      "mark": {"type": "line", "color": "#ffa726", "strokeWidth": 2, "clip": true},
      "encoding": {
        "x": {"field": "i", "type": "quantitative", "scale": {"domain": [0.2, 203.6], "nice": false, "zero": false},
          "axis": {"values": [25, 50, 75, 100, 125, 150, 175, 200], "labels": false, "ticks": false, "domain": false, "grid": true, "title": null}},
        "y": {"field": "a", "type": "quantitative", "scale": {"domain": [0.0237, 0.0859], "nice": false, "zero": false},
          "axis": {"orient": "right", "values": [0.025, 0.05, 0.075], "format": ".3f", "title": "ATR(14)",
            "titleX": 94, "titleY": 52, "titleAngle": 270, "titleAlign": "center", "titleBaseline": "middle"}}
      }
    }
  ],
  "spacing": 0,
  "bounds": "flush",
  "resolve": {
    "scale": {"color": "independent", "strokeDash": "independent"},
    "legend": {"color": "independent", "strokeDash": "independent"}
  },
  "config": {
    "font": "DejaVu Sans",
    "view": {"stroke": "#393c45", "strokeWidth": 3},
    "axis": {
      "labelFont": "DejaVu Sans",
      "titleFont": "DejaVu Sans",
      "labelFontSize": 20,
      "labelColor": "#8a8e98",
      "titleFontSize": 24,
      "titleFontWeight": "bold",
      "titleColor": "#7d818b",
      "gridColor": "#2a2e39",
      "gridWidth": 1,
      "tickColor": "#8a8e98",
      "tickSize": 6,
      "tickWidth": 1.2,
      "labelPadding": 8,
      "domain": false
    },
    "legend": {
      "labelFont": "DejaVu Sans",
      "labelFontSize": 16,
      "labelColor": "#ffffff",
      "symbolType": "M-1,0H2.7",
      "symbolSize": 400,
      "symbolStrokeWidth": 3,
      "labelOffset": 25,
      "padding": 6,
      "rowPadding": 6,
      "fillColor": "#0e1119",
      "strokeColor": "#3a3e48",
      "cornerRadius": 4
    }
  }
}
